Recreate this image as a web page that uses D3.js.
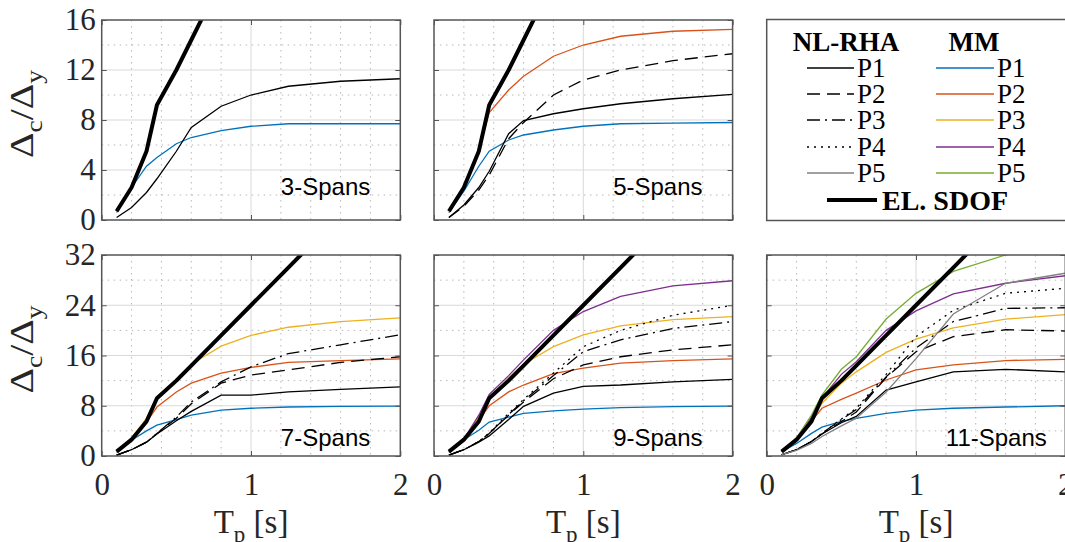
<!DOCTYPE html>
<html>
<head>
<meta charset="utf-8">
<script src="https://cdn.jsdelivr.net/npm/d3@7"></script>
<style>
  body { margin: 0; background: #fff; }
  svg { display: block; }
</style>
</head>
<body>
<script>

// periods (s) at which all curves are sampled
let periods = [0.1, 0.2, 0.3, 0.37, 0.5, 0.6, 0.8, 1.0, 1.25, 1.6, 2.0]

// elastic SDOF, same in every panel
let elSdof = [0.7, 2.6, 5.5, 9.2, 12.0, 14.4, 19.2, 24.0, 30.0, 38.4, 48.0]

// NL-RHA (black) and MM (coloured) per bridge, one row per pier P1..Pn
let nl3Span = [
    [0.2, 1.0, 2.2, 3.3, 5.5, 7.4, 9.1, 10.0, 10.7, 11.1, 11.3]
]
let mm3Span = [
    [0.6, 2.6, 4.3, 5.0, 6.1, 6.6, 7.15, 7.5, 7.7, 7.7, 7.7]
]

let nl5Span = [
    [0.2, 1.2, 2.6, 3.9, 6.9, 7.95, 8.5, 8.9, 9.3, 9.7, 10.05],
    [0.2, 1.1, 2.4, 3.6, 6.5, 7.8, 10.0, 11.2, 12.0, 12.75, 13.3]
]
let mm5Span = [
    [0.6, 2.3, 4.3, 5.5, 6.4, 6.8, 7.2, 7.5, 7.7, 7.75, 7.8],
    [0.6, 2.6, 5.6, 8.6, 10.4, 11.5, 13.1, 14.0, 14.7, 15.1, 15.25]
]

let nl7Span = [
    [0.15, 1.0, 2.2, 3.5, 5.6, 7.1, 9.7, 9.7, 10.2, 10.6, 11.0],
    [0.15, 1.0, 2.2, 3.6, 6.0, 8.3, 11.6, 12.9, 13.7, 14.9, 15.8],
    [0.15, 1.0, 2.2, 3.6, 6.2, 8.6, 11.8, 14.2, 16.3, 17.7, 19.3]
]
let mm7Span = [
    [0.6, 2.5, 4.0, 4.9, 5.8, 6.5, 7.3, 7.6, 7.8, 7.9, 7.95],
    [0.6, 2.6, 5.4, 7.8, 10.2, 11.6, 13.2, 14.1, 14.9, 15.2, 15.45],
    [0.6, 2.9, 6.0, 9.4, 12.2, 14.6, 17.5, 19.2, 20.5, 21.4, 22.0]
]

let nl9Span = [
    [0.15, 1.0, 2.2, 3.2, 5.8, 7.9, 10.0, 11.1, 11.3, 11.8, 12.2],
    [0.15, 1.0, 2.3, 3.6, 6.5, 8.6, 12.3, 14.5, 15.8, 16.9, 17.7],
    [0.15, 1.0, 2.3, 3.6, 6.6, 8.8, 12.8, 16.6, 18.5, 20.3, 21.4],
    [0.15, 1.0, 2.3, 3.7, 6.8, 9.0, 13.2, 17.4, 20.0, 22.4, 24.0]
]
let mm9Span = [
    [0.6, 2.6, 4.1, 5.4, 6.2, 6.8, 7.2, 7.45, 7.7, 7.85, 7.95],
    [0.6, 2.6, 5.7, 8.0, 10.2, 11.3, 13.1, 14.0, 14.8, 15.2, 15.45],
    [0.6, 2.7, 6.2, 9.3, 12.5, 14.6, 17.4, 19.3, 20.7, 21.7, 22.2],
    [0.6, 2.7, 6.5, 9.8, 12.8, 15.3, 20.0, 23.0, 25.4, 27.1, 27.9]
]

let nl11Span = [
    [0.2, 1.0, 2.3, 3.5, 5.3, 6.3, 10.5, 11.8, 13.4, 13.8, 13.4],
    [0.2, 1.0, 2.3, 3.5, 5.5, 7.0, 12.5, 16.6, 19.0, 20.1, 19.9],
    [0.2, 1.0, 2.3, 3.6, 5.8, 7.4, 12.6, 17.2, 21.4, 23.5, 23.6],
    [0.2, 1.0, 2.3, 3.6, 5.9, 7.6, 13.0, 19.0, 23.2, 25.9, 26.7],
    [0.2, 0.9, 2.0, 3.1, 4.8, 6.0, 10.2, 15.5, 22.6, 27.5, 29.1]
]
let mm11Span = [
    [0.7, 2.0, 3.6, 4.6, 5.5, 6.0, 6.8, 7.3, 7.6, 7.8, 8.0],
    [0.7, 2.6, 5.5, 7.6, 9.0, 10.0, 12.1, 13.7, 14.5, 15.2, 15.4],
    [0.7, 2.8, 5.9, 8.4, 11.6, 13.4, 16.5, 18.6, 20.4, 21.8, 22.5],
    [0.7, 2.8, 6.2, 9.2, 13.0, 15.0, 20.0, 23.1, 25.8, 27.5, 28.7],
    [0.7, 2.9, 6.5, 9.7, 13.8, 15.8, 21.8, 25.9, 29.4, 32.0, 34.5]
]

let spanLabels = ["3-Spans", "5-Spans", "7-Spans", "9-Spans", "11-Spans"]
let pierNames = ["P1", "P2", "P3", "P4", "P5"]
let xTicks = [0, 1, 2]
let yTicksTop = [0, 4, 8, 12, 16]
let yTicksBottom = [0, 8, 16, 24, 32]

// MATLAB default colour order for MM
let mmColors = ["#0072BD", "#D95319", "#EDB120", "#7E2F8E", "#77AC30"]
// NL-RHA line styles per pier
let nlDash = [null, "13,7", "13,5,2,5", "2,5", null]
let nlColor = ["#000", "#000", "#000", "#000", "#808080"]

let W = 1065, H = 542
let serif = "'Liberation Serif', 'Times New Roman', serif"
let svg = d3.select("body").append("svg")
    .attr("width", W)
    .attr("height", H)
    .style("font-family", serif)

let colLeft = [101.7, 434, 766.7]
let plotW = 298.6
let rowTop = [20, 255]
let rowBottom = [220, 456]
let axisColor = "#555"

let panels = [
    {label: spanLabels[0], nl: nl3Span, mm: mm3Span, col: 0, row: 0, yTicks: yTicksTop},
    {label: spanLabels[1], nl: nl5Span, mm: mm5Span, col: 1, row: 0, yTicks: yTicksTop},
    {label: spanLabels[2], nl: nl7Span, mm: mm7Span, col: 0, row: 1, yTicks: yTicksBottom},
    {label: spanLabels[3], nl: nl9Span, mm: mm9Span, col: 1, row: 1, yTicks: yTicksBottom},
    {label: spanLabels[4], nl: nl11Span, mm: mm11Span, col: 2, row: 1, yTicks: yTicksBottom}
]

let toPoints = (vals) => vals.map((v, i) => [periods[i], v])

panels.forEach(function (p, k) {

    let left = colLeft[p.col]
    let top = rowTop[p.row], bottom = rowBottom[p.row]
    let yMax = p.yTicks[p.yTicks.length - 1]
    let x = d3.scaleLinear().domain([0, 2]).range([left, left + plotW])
    let y = d3.scaleLinear().domain([0, yMax]).range([bottom, top])

    let g = svg.append("g").attr("id", "panel" + k)

    // minor grid (dotted)
    let yStep = p.yTicks[1] / 2
    let minorX = d3.range(0.2, 2, 0.2).filter(t => Math.abs(t - 1) > 1e-6)
    let minorY = d3.range(yStep, yMax, yStep * 2)
    g.selectAll("line.mx").data(minorX).enter().append("line")
        .attr("x1", d => x(d)).attr("x2", d => x(d))
        .attr("y1", top).attr("y2", bottom)
        .attr("stroke", "#b8b8b8").attr("stroke-width", 1)
        .attr("stroke-dasharray", "1.5,4.5")
    g.selectAll("line.my").data(minorY).enter().append("line")
        .attr("x1", left).attr("x2", left + plotW)
        .attr("y1", d => y(d)).attr("y2", d => y(d))
        .attr("stroke", "#b8b8b8").attr("stroke-width", 1)
        .attr("stroke-dasharray", "1.5,4.5")

    // major grid
    g.append("line")
        .attr("x1", x(1)).attr("x2", x(1)).attr("y1", top).attr("y2", bottom)
        .attr("stroke", "#d9d9d9").attr("stroke-width", 1)
    g.selectAll("line.gy").data(p.yTicks.slice(1, -1)).enter().append("line")
        .attr("x1", left).attr("x2", left + plotW)
        .attr("y1", d => y(d)).attr("y2", d => y(d))
        .attr("stroke", "#d9d9d9").attr("stroke-width", 1)

    // clip curves to the axes box
    svg.append("clipPath").attr("id", "clip" + k)
        .append("rect")
        .attr("x", left).attr("y", top)
        .attr("width", plotW).attr("height", bottom - top)

    let GenLine = d3.line()
        .x(d => x(d[0]))
        .y(d => y(d[1]))

    let curves = g.append("g").attr("clip-path", "url(#clip" + k + ")")

    p.mm.forEach(function (vals, i) {
        curves.append("path")
            .attr("d", GenLine(toPoints(vals)))
            .attr("fill", "none")
            .attr("stroke", mmColors[i])
            .attr("stroke-width", 1.3)
    })
    p.nl.forEach(function (vals, i) {
        curves.append("path")
            .attr("d", GenLine(toPoints(vals)))
            .attr("fill", "none")
            .attr("stroke", nlColor[i])
            .attr("stroke-width", 1.3)
            .attr("stroke-dasharray", nlDash[i])
    })
    curves.append("path")
        .attr("d", GenLine(toPoints(elSdof)))
        .attr("fill", "none")
        .attr("stroke", "#000")
        .attr("stroke-width", 4)
        .attr("stroke-linejoin", "round")

    // axes with inward ticks
    let yAxis = g.append("g")
        .attr("transform", "translate(" + left + ",0)")
        .call(d3.axisLeft(y).tickValues(p.yTicks).tickSize(-5).tickPadding(6))
    let yAxisR = g.append("g")
        .attr("transform", "translate(" + (left + plotW) + ",0)")
        .call(d3.axisRight(y).tickValues(p.yTicks).tickSize(-5).tickFormat(""))
    let xAxis = g.append("g")
        .attr("transform", "translate(0," + bottom + ")")
        .call(d3.axisBottom(x).tickValues(xTicks).tickSize(-5).tickPadding(17)
            .tickFormat(p.row === 1 ? d3.format("d") : ""))
    let xAxisT = g.append("g")
        .attr("transform", "translate(0," + top + ")")
        .call(d3.axisTop(x).tickValues(xTicks).tickSize(-5).tickFormat(""))

    ;[yAxis, yAxisR, xAxis, xAxisT].forEach(function (a) {
        a.attr("font-family", null)
        a.select(".domain").remove()
        a.selectAll("line").attr("stroke", axisColor)
        a.selectAll("text")
            .attr("fill", "#262626")
            .style("font-family", serif)
            .style("font-size", "31px")
    })
    if (p.col > 0) yAxis.selectAll("text").remove()

    g.append("rect")
        .attr("x", left).attr("y", top)
        .attr("width", plotW).attr("height", bottom - top)
        .attr("fill", "none")
        .attr("stroke", axisColor)
        .attr("stroke-width", 1.5)

    // bridge label
    g.append("text")
        .attr("x", x(1.2))
        .attr("y", p.row === 0 ? y(2) : y(1.6))
        .style("font-family", "'Liberation Sans', Arial, sans-serif")
        .style("font-size", "24px")
        .attr("fill", "#000")
        .text(p.label)

    // axis titles
    if (p.col === 0) {
        let yc = (top + bottom) / 2 - 6
        let yl = svg.append("text")
            .attr("transform", "translate(33," + yc + ") rotate(-90) scale(1.2,1)")
            .attr("text-anchor", "middle")
            .attr("fill", "#262626")
            .style("font-size", "33px")
        yl.append("tspan").text("Δ")
        yl.append("tspan").attr("dy", 9).style("font-size", "23px").text("c")
        yl.append("tspan").attr("dy", -9).text("/Δ")
        yl.append("tspan").attr("dy", 9).style("font-size", "23px").text("y")
    }
    if (p.row === 1) {
        let xl = svg.append("text")
            .attr("x", left + plotW / 2)
            .attr("y", 533)
            .attr("text-anchor", "middle")
            .attr("fill", "#262626")
            .style("font-size", "33px")
        xl.append("tspan").text("T")
        xl.append("tspan").attr("dy", 9).style("font-size", "23px").text("p")
        xl.append("tspan").attr("dy", -9).text(" [s]")
    }
})

// legend box
let lg = svg.append("g").attr("id", "legend")
lg.append("rect")
    .attr("x", 766.7).attr("y", 19.5)
    .attr("width", 310).attr("height", 201)
    .attr("fill", "#fff")
    .attr("stroke", axisColor)
    .attr("stroke-width", 1.5)

lg.append("text").attr("x", 846).attr("y", 51)
    .attr("text-anchor", "middle").style("font-weight", "bold").style("font-size", "27px")
    .text("NL-RHA")
lg.append("text").attr("x", 974).attr("y", 51)
    .attr("text-anchor", "middle").style("font-weight", "bold").style("font-size", "27px")
    .text("MM")

let rowY = [68, 94, 120, 147, 173]
pierNames.forEach(function (name, i) {
    lg.append("line")
        .attr("x1", 807).attr("x2", 854).attr("y1", rowY[i]).attr("y2", rowY[i])
        .attr("stroke", nlColor[i]).attr("stroke-width", 1.3)
        .attr("stroke-dasharray", nlDash[i])
    lg.append("text").attr("x", 857).attr("y", rowY[i] + 9)
        .style("font-size", "27px").text(name)
    lg.append("line")
        .attr("x1", 936).attr("x2", 994).attr("y1", rowY[i]).attr("y2", rowY[i])
        .attr("stroke", mmColors[i]).attr("stroke-width", 1.3)
    lg.append("text").attr("x", 997).attr("y", rowY[i] + 9)
        .style("font-size", "27px").text(name)
})
lg.append("line")
    .attr("x1", 827).attr("x2", 877).attr("y1", 200).attr("y2", 200)
    .attr("stroke", "#000").attr("stroke-width", 4)
lg.append("text").attr("x", 882).attr("y", 210)
    .style("font-weight", "bold").style("font-size", "28px")
    .text("EL. SDOF")

</script>
</body>
</html>
